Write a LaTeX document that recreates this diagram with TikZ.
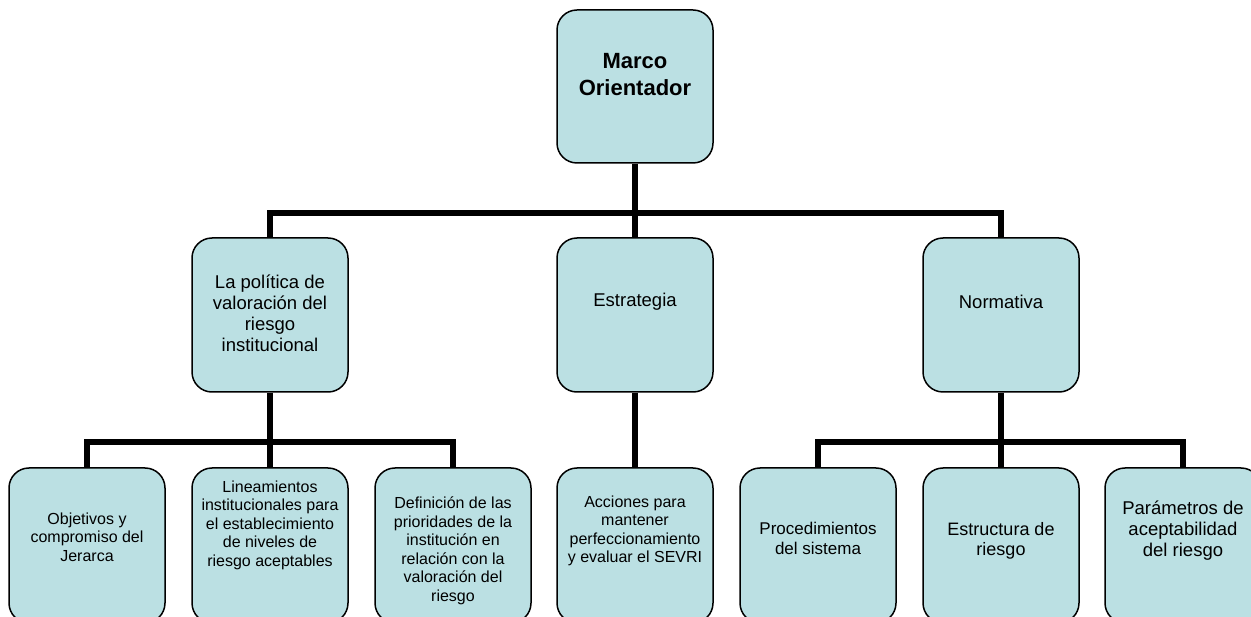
\documentclass[tikz,border=0pt]{standalone}
\usepackage{fontspec}
\setmainfont{Liberation Sans}
\usetikzlibrary{backgrounds}
\definecolor{boxfill}{RGB}{187,224,227}
\begin{document}
\begin{tikzpicture}[x=1pt,y=-1pt,
  box/.style={draw=black, line width=1.5pt, fill=boxfill, rounded corners=20pt, minimum width=156pt, inner sep=0pt},
  topbox/.style={box, minimum height=153pt},
  midbox/.style={box, minimum height=154pt},
  lowbox/.style={box, minimum height=155pt},
  lbl/.style={align=center, inner sep=0pt},
  big/.style={lbl, font=\fontsize{18.5}{21}\selectfont},
  small/.style={lbl, font=\fontsize{16}{18.5}\selectfont},
  conn/.style={line width=5.5pt, black}]
\useasboundingbox (0,0) rectangle (1251,617);
\clip (0,0) rectangle (1251,617);

% boxes
\node[topbox] (top) at (635,86.5) {};
\node[midbox] (pol) at (270,315) {};
\node[midbox] (estr) at (635,315) {};
\node[midbox] (norm) at (1001,315) {};
\node[lowbox] (b1) at (87,545.5) {};
\node[lowbox] (b2) at (270,545.5) {};
\node[lowbox] (b3) at (453,545.5) {};
\node[lowbox] (b4) at (635,545.5) {};
\node[lowbox] (b5) at (818,545.5) {};
\node[lowbox] (b6) at (1001,545.5) {};
\node[lowbox] (b7) at (1183,545.5) {};

% junctions
\coordinate (bus1) at (635,213);
\coordinate (bus2) at (270,442);
\coordinate (bus3) at (1001,442);

% connectors behind the boxes
\begin{pgfonlayer}{background}
\fill[white] (0,0) rectangle (1251,617);
\draw[conn] (top.south) -- (bus1);
\draw[conn] (pol.north) |- (bus1);
\draw[conn] (norm.north) |- (bus1);
\draw[conn] (estr.north) -- (bus1);
\draw[conn] (pol.south) -- (bus2);
\draw[conn] (b1.north) |- (bus2);
\draw[conn] (b3.north) |- (bus2);
\draw[conn] (b2.north) -- (bus2);
\draw[conn] (estr.south) -- (b4.north);
\draw[conn] (norm.south) -- (bus3);
\draw[conn] (b5.north) |- (bus3);
\draw[conn] (b7.north) |- (bus3);
\draw[conn] (b6.north) -- (bus3);
\end{pgfonlayer}

% labels
\node[lbl, font=\fontsize{22}{27}\selectfont\bfseries] (tTop) at (635,75) {Marco\\Orientador};
\node[big] (tPol) at (270,313) {La política de\\valoración del\\riesgo\\institucional};
\node[big] (tEstr) at (635,302) {Estrategia};
\node[big] (tNorm) at (1001,302) {Normativa};
\node[small] (t1) at (87,537) {Objetivos y\\compromiso del\\Jerarca};
\node[small] (t2) at (270,525) {Lineamientos\\institucionales para\\el establecimiento\\de niveles de\\riesgo aceptables};
\node[small] (t3) at (453,551) {Definición de las\\prioridades de la\\institución en\\relación con la\\valoración del\\riesgo};
\node[small] (t4) at (635,531) {Acciones para\\mantener\\perfeccionamiento\\y evaluar el SEVRI};
\node[lbl, font=\fontsize{17}{20}\selectfont] (t5) at (818,538) {Procedimientos\\del sistema};
\node[lbl, font=\fontsize{18}{20.5}\selectfont] (t6) at (1001,541) {Estructura de\\riesgo};
\node[lbl, font=\fontsize{18.5}{21}\selectfont] (t7) at (1183,531) {Parámetros de\\aceptabilidad\\del riesgo};
\end{tikzpicture}
\end{document}
